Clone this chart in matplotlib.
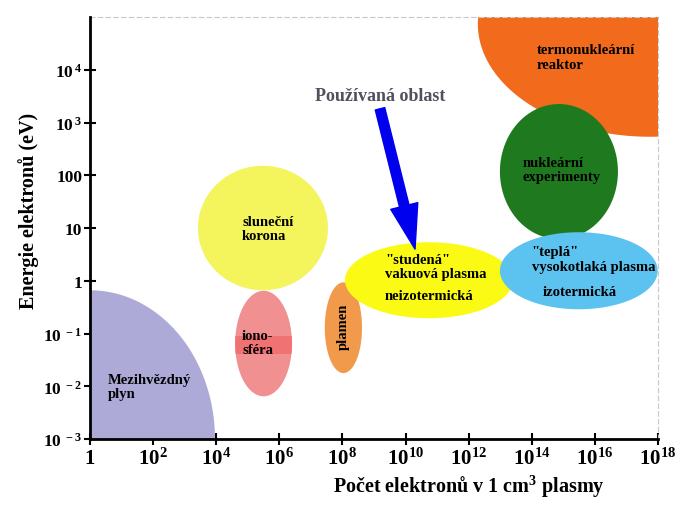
import matplotlib
matplotlib.use("Agg")
import matplotlib.pyplot as plt
import numpy as np

plt.rcParams["font.family"] = ["Liberation Serif", "DejaVu Serif"]
plt.rcParams["font.weight"] = "bold"
plt.rcParams["mathtext.fontset"] = "custom"
plt.rcParams["mathtext.rm"] = "Liberation Serif:bold"
plt.rcParams["mathtext.bf"] = "Liberation Serif:bold"
plt.rcParams["mathtext.default"] = "bf"

# plasma regions, in decades: log10(n_e) centre / half-span, log10(E) centre / half-span
regions = ["termonukleární reaktor", "nukleární experimenty", "mezihvězdný plyn",
           "sluneční korona", "ionosféra", "plamen", "studená plasma", "teplá plasma"]
dens_center = [17.74, 14.86, 0.0, 5.48, 5.50, 8.03, 10.74, 15.49]
dens_span = [5.45, 1.87, 3.96, 2.06, 0.90, 0.59, 2.66, 2.50]
energy_center = [4.87, 2.07, -3.0, 1.0, -1.19, -0.89, 0.01, 0.19]
energy_span = [2.14, 1.28, 2.82, 1.18, 1.0, 0.86, 0.72, 0.73]
colors = ["#f26b1c", "#1f7a1f", "#aeaad8", "#f4f45c", "#f09090", "#f29a4c", "#fafa14", "#5cc2f0"]

x_ticks = [0, 2, 4, 6, 8, 10, 12, 14, 16, 18]
x_labels = ["1"] + [r"$10^{%d}$" % e for e in x_ticks[1:]]
y_ticks = [-3, -2, -1, 0, 1, 2, 3, 4]
y_labels = [r"$10^{\,-3}$", r"$10^{\,-2}$", r"$10^{\,-1}$", "1", "10", "100",
            r"$10^{\,3}$", r"$10^{\,4}$"]

fig = plt.figure(figsize=(6.85, 5.06), dpi=100)
ax = fig.add_axes([0.1314, 0.1304, 0.8292, 0.834])
ax.set_xscale("log")
ax.set_yscale("log")
ax.set_xlim(1, 1e18)
ax.set_ylim(1e-3, 1e5)

t = np.linspace(0, 2 * np.pi, 400)
patches = {}
for name, cx, rx, cy, ry, c in zip(regions, dens_center, dens_span,
                                   energy_center, energy_span, colors):
    poly = ax.fill(10 ** (cx + rx * np.cos(t)), 10 ** (cy + ry * np.sin(t)),
                   color=c, lw=0, zorder=2)[0]
    patches[name] = poly

# darker band behind the ionosphere label
i = regions.index("ionosféra")
band = ax.axhspan(10 ** (energy_center[i] - 0.2), 10 ** (energy_center[i] + 0.14),
                  color="#f07272", lw=0, zorder=2.5)
band.set_clip_path(patches["ionosféra"])

lbl = dict(fontsize=10.5, ha="left", va="center", linespacing=1.15, zorder=5)
ax.text(10 ** 14.16, 10 ** 4.24, "termonukleární\nreaktor", **lbl)
ax.text(10 ** 13.72, 10 ** 2.11, "nukleární\nexperimenty", **lbl)
ax.text(10 ** 9.35, 10 ** 0.27, "\"studená\"\nvakuová plasma", **lbl)
ax.text(10 ** 9.35, 10 ** -0.27, "neizotermická", **lbl)
ax.text(10 ** 14.0, 10 ** 0.41, "\"teplá\"\nvysokotlaká plasma", **lbl)
ax.text(10 ** 14.35, 10 ** -0.21, "izotermická", **lbl)
ax.text(10 ** 4.82, 10 ** 0.99, "sluneční\nkorona", **lbl)
ax.text(10 ** 4.82, 10 ** -1.17, "iono-\nsféra", **lbl)
ax.text(10 ** 0.57, 10 ** -2.0, "Mezihvězdný\nplyn", **lbl)
ax.text(10 ** 8.02, 10 ** -0.86, "plamen", fontsize=10.5, rotation=90,
        ha="center", va="center", zorder=5)

ax.text(10 ** 9.19, 10 ** 3.52, "Používaná oblast", fontsize=13,
        color="#50505e", ha="center", va="center", zorder=5)
ax.annotate("", xy=(10 ** 10.30, 10 ** 0.60), xytext=(10 ** 9.19, 10 ** 3.26),
            arrowprops=dict(arrowstyle="simple,head_width=1.0,head_length=1.6,tail_width=0.35",
                            color="#0000ee", mutation_scale=20, shrinkA=0, shrinkB=0),
            zorder=6)

ax.set_xticks([10.0 ** e for e in x_ticks])
ax.set_xticklabels(x_labels, fontsize=15)
ax.set_yticks([10.0 ** e for e in y_ticks])
ax.set_yticklabels(y_labels, fontsize=12.5)
ax.minorticks_off()
ax.tick_params(direction="inout", length=9, width=1.5, color="black", pad=1)
ax.tick_params(axis="x", pad=2)

for s in ("left", "bottom"):
    ax.spines[s].set_linewidth(2)
    ax.spines[s].set_zorder(7)
for s in ("top", "right"):
    ax.spines[s].set_color("#c8c8c8")
    ax.spines[s].set_linewidth(0.8)
    ax.spines[s].set_linestyle((0, (4, 3)))

fig.text(29 / 685, 1 - 211 / 506, "Energie elektronů (eV)", rotation=90,
         fontsize=14.5, ha="center", va="center")
fig.text(469 / 685, 1 - 487 / 506, "Počet elektronů v 1 cm$^3$ plasmy",
         fontsize=14.5, ha="center", va="center")

fig.savefig("out.png", dpi=100)
